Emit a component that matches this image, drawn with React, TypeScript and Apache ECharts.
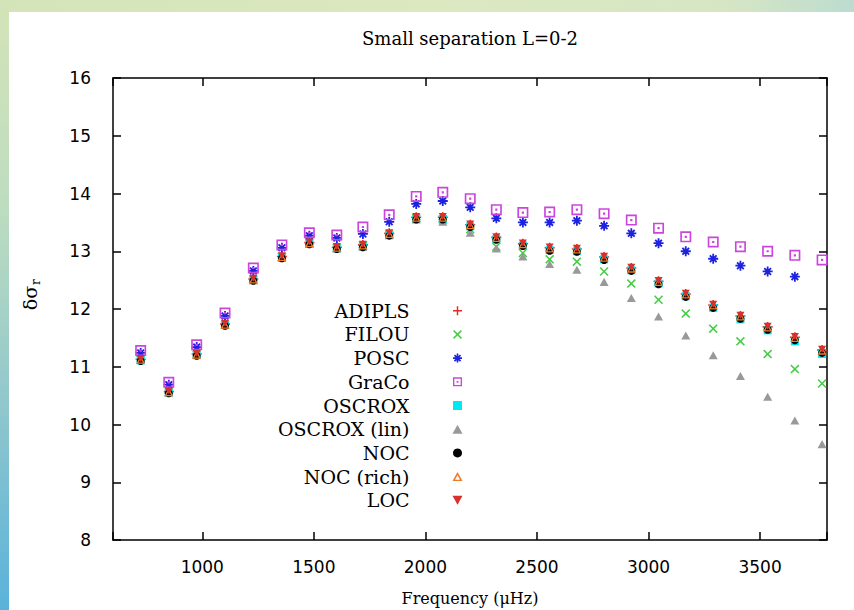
import React, { useEffect, useRef } from "react";
import * as echarts from "echarts";

const freq = [724, 850, 975, 1102, 1229, 1357, 1480, 1603, 1720, 1838, 1959, 2078, 2201, 2318, 2437, 2557, 2679, 2801, 2923, 3045, 3167, 3290, 3412, 3534, 3656, 3778];

const adipls = [11.13, 10.57, 11.22, 11.74, 12.52, 12.91, 13.15, 13.07, 13.11, 13.31, 13.59, 13.59, 13.46, 13.24, 13.13, 13.06, 13.04, 12.9, 12.71, 12.48, 12.26, 12.07, 11.88, 11.69, 11.51, 11.29];
const filou = [11.12, 10.56, 11.21, 11.73, 12.51, 12.9, 13.14, 13.06, 13.1, 13.29, 13.57, 13.55, 13.38, 13.08, 12.97, 12.86, 12.82, 12.65, 12.44, 12.16, 11.92, 11.66, 11.44, 11.22, 10.96, 10.71];
const posc = [11.24, 10.69, 11.34, 11.88, 12.66, 13.06, 13.27, 13.23, 13.3, 13.51, 13.82, 13.87, 13.76, 13.57, 13.5, 13.5, 13.53, 13.44, 13.31, 13.14, 13.0, 12.87, 12.75, 12.65, 12.56];
const graco = [11.28, 10.73, 11.38, 11.93, 12.71, 13.11, 13.32, 13.28, 13.42, 13.63, 13.95, 14.02, 13.91, 13.72, 13.67, 13.68, 13.72, 13.65, 13.54, 13.4, 13.25, 13.16, 13.08, 13.0, 12.93, 12.85];
const oscrox = [11.11, 10.55, 11.2, 11.72, 12.5, 12.89, 13.13, 13.05, 13.08, 13.28, 13.56, 13.56, 13.43, 13.21, 13.1, 13.02, 13.0, 12.86, 12.67, 12.44, 12.22, 12.02, 11.82, 11.63, 11.44, 11.22];
const oscroxLin = [11.12, 10.56, 11.21, 11.73, 12.5, 12.89, 13.13, 13.05, 13.08, 13.28, 13.55, 13.51, 13.32, 13.05, 12.91, 12.78, 12.68, 12.47, 12.19, 11.87, 11.54, 11.2, 10.84, 10.48, 10.07, 9.66];
const noc = [11.1, 10.54, 11.19, 11.71, 12.49, 12.88, 13.12, 13.04, 13.07, 13.27, 13.55, 13.55, 13.42, 13.2, 13.09, 13.01, 12.99, 12.85, 12.66, 12.43, 12.21, 12.02, 11.83, 11.64, 11.46, 11.24];
const nocRich = [11.12, 10.56, 11.21, 11.73, 12.51, 12.9, 13.14, 13.06, 13.1, 13.3, 13.58, 13.58, 13.45, 13.23, 13.12, 13.05, 13.03, 12.89, 12.7, 12.47, 12.25, 12.06, 11.87, 11.68, 11.5, 11.28];
const loc = [11.14, 10.58, 11.23, 11.75, 12.53, 12.92, 13.16, 13.08, 13.12, 13.32, 13.6, 13.6, 13.47, 13.25, 13.14, 13.07, 13.05, 12.91, 12.72, 12.49, 12.27, 12.08, 11.89, 11.7, 11.52, 11.3];

const xTicks = [1000, 1500, 2000, 2500, 3000, 3500];
const yTicks = [8, 9, 10, 11, 12, 13, 14, 15, 16];

const SYM_PLUS = "path://M4.2,0H5.8V4.2H10V5.8H5.8V10H4.2V5.8H0V4.2H4.2Z";
const SYM_X = "path://M0,1.2L1.2,0L5,3.8L8.8,0L10,1.2L6.2,5L10,8.8L8.8,10L5,6.2L1.2,10L0,8.8L3.8,5Z";
const SYM_STAR = "path://M4.1,0H5.9V4.1H10V5.9H5.9V10H4.1V5.9H0V4.1H4.1Z M1,2.3L2.3,1L5,3.7L7.7,1L9,2.3L6.3,5L9,7.7L7.7,9L5,6.3L2.3,9L1,7.7L3.7,5Z";
const SYM_BOXDOT = "path://M0,0H10V10H0Z M1.5,1.5V8.5H8.5V1.5Z M4,4H6V6H4Z";
const SYM_SQUARE = "path://M0,0H10V10H0Z";
const SYM_TRI = "path://M5,0L10,9H0Z";
const SYM_TRI_OPEN = "path://M5,0L10,9H0Z M5,3.2L2.5,7.6H7.5Z";
const SYM_TRI_DOWN = "path://M0,0H10L5,9Z";

const seriesDefs = [
  { name: "ADIPLS", values: adipls, symbol: SYM_PLUS, size: 10, color: "#e42a22" },
  { name: "FILOU", values: filou, symbol: SYM_X, size: 9, color: "#44cc44" },
  { name: "POSC", values: posc, symbol: SYM_STAR, size: 10, color: "#1c22e0" },
  { name: "GraCo", values: graco, symbol: SYM_BOXDOT, size: 11, color: "#cc44dd" },
  { name: "OSCROX", values: oscrox, symbol: SYM_SQUARE, size: 8, color: "#00e8f2" },
  { name: "OSCROX (lin)", values: oscroxLin, symbol: SYM_TRI, size: 9, color: "#999999" },
  { name: "NOC", values: noc, symbol: "circle", size: 8, color: "#000000" },
  { name: "NOC (rich)", values: nocRich, symbol: SYM_TRI_OPEN, size: 9, color: "#f07a28" },
  { name: "LOC", values: loc, symbol: SYM_TRI_DOWN, size: 8, color: "#d8302c" },
];

export default function App() {
  const ref = useRef<HTMLDivElement>(null);

  useEffect(() => {
    document.body.style.margin = "0";
    const chart = echarts.init(ref.current!, null, { renderer: "svg" });
    const axisLine = { show: true, lineStyle: { color: "#000", width: 1.5 } };
    const axisTick = { show: true, inside: true, length: 8, lineStyle: { color: "#000", width: 1.5 } };
    const xFmt = (v: number) => (xTicks.indexOf(v) >= 0 ? String(v) : "");
    const yFmt = (v: number) => (yTicks.indexOf(v) >= 0 ? String(v) : "");

    chart.setOption({
      animation: false,
      backgroundColor: "#ffffff",
      grid: { left: 113, right: 27, top: 78, bottom: 70, containLabel: false, outerBoundsMode: "none" },
      graphic: [
        {
          type: "rect",
          z: -10,
          shape: { x: 0, y: 0, width: 854, height: 12 },
          style: {
            fill: new echarts.graphic.LinearGradient(0, 0, 1, 0, [
              { offset: 0, color: "#d4e4b8" },
              { offset: 0.5, color: "#dce8c0" },
              { offset: 0.85, color: "#d6e6c4" },
              { offset: 1, color: "#bcdcd0" },
            ]),
          },
        },
        {
          type: "rect",
          z: -10,
          shape: { x: 0, y: 0, width: 9, height: 610 },
          style: {
            fill: new echarts.graphic.LinearGradient(0, 0, 0, 1, [
              { offset: 0, color: "#d4e4b8" },
              { offset: 0.35, color: "#bcdcc0" },
              { offset: 0.65, color: "#92c8cc" },
              { offset: 1, color: "#5ab2da" },
            ]),
          },
        },
        {
          type: "text",
          x: 470,
          y: 38,
          style: {
            text: "Small separation L=0-2",
            align: "center",
            verticalAlign: "middle",
            fontFamily: "DejaVu Serif",
            fontSize: 18,
            fill: "#000",
          },
        },
        {
          type: "group",
          x: 30,
          y: 298,
          rotation: Math.PI / 2,
          children: [
            {
              type: "text",
              x: 0,
              y: 0,
              style: {
                text: "δσ",
                align: "center",
                verticalAlign: "middle",
                fontFamily: "DejaVu Serif",
                fontSize: 19,
                fill: "#000",
              },
            },
            {
              type: "text",
              x: 13,
              y: 6,
              style: {
                text: "r",
                align: "left",
                verticalAlign: "middle",
                fontFamily: "DejaVu Serif",
                fontSize: 12,
                fill: "#000",
              },
            },
          ],
        },
      ],
      legend: {
        orient: "vertical",
        align: "right",
        right: 391.5,
        top: 300.7,
        padding: 0,
        itemWidth: 86,
        itemHeight: 9,
        itemGap: 3.7,
        symbolKeepAspect: true,
        textStyle: { fontFamily: "DejaVu Serif", fontSize: 19, lineHeight: 20, color: "#000" },
        data: seriesDefs.map((s) => s.name),
      },
      xAxis: [
        {
          type: "value",
          min: 600,
          max: 3800,
          splitNumber: 6,
          position: "bottom",
          axisLine,
          axisTick,
          splitLine: { show: false },
          axisLabel: {
            formatter: xFmt,
            margin: 18,
            color: "#000",
            fontFamily: "DejaVu Sans",
            fontSize: 17,
          },
          name: "Frequency (μHz)",
          nameLocation: "middle",
          nameGap: 50,
          nameTextStyle: { fontFamily: "DejaVu Serif", fontSize: 16, color: "#000" },
        },
        {
          type: "value",
          min: 600,
          max: 3800,
          splitNumber: 6,
          position: "top",
          axisLine,
          axisTick,
          splitLine: { show: false },
          axisLabel: { show: false },
        },
      ],
      yAxis: [
        {
          type: "value",
          min: 8,
          max: 16,
          interval: 1,
          position: "left",
          axisLine,
          axisTick,
          splitLine: { show: false },
          axisLabel: {
            formatter: yFmt,
            margin: 22,
            color: "#000",
            fontFamily: "DejaVu Sans",
            fontSize: 17,
          },
        },
        {
          type: "value",
          min: 8,
          max: 16,
          interval: 1,
          position: "right",
          axisLine,
          axisTick,
          splitLine: { show: false },
          axisLabel: { show: false },
        },
      ],
      series: seriesDefs.map((s) => ({
        name: s.name,
        type: "scatter",
        xAxisIndex: 0,
        yAxisIndex: 0,
        symbol: s.symbol,
        symbolSize: s.size,
        symbolKeepAspect: true,
        itemStyle: { color: s.color, opacity: 1 },
        emphasis: { disabled: true },
        data: s.values.map((v, i) => [freq[i], v]),
      })),
    });
    return () => chart.dispose();
  }, []);

  return (
    <div
      ref={ref}
      style={{ position: "fixed", left: 0, top: 0, width: 854, height: 610 }}
    />
  );
}
